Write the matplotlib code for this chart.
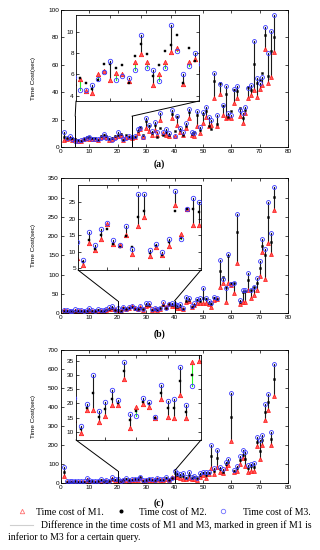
import numpy as np
import matplotlib.pyplot as plt
from matplotlib.patches import ConnectionPatch

# ---- data: time cost (sec) of methods M1, M2, M3 for queries 1..75
queries = np.arange(1, 76)

# panel (a)
a_m1 = [5.0, 5.6, 6.3, 5.2,
        5.6, 4.4, 4.3, 6.0, 6.3, 5.5, 6.15, 6.0, 5.35, 7.2, 7.9, 7.2, 5.05, 6.05, 7.15, 8.1, 8.5, 5.1, 7.15, 7.5,
        6.5, 7.0, 10, 13, 7,
        14, 12, 8.7, 12.5, 8.7, 20, 10, 8.7, 8, 21, 8, 16, 11, 9, 14, 21, 8.5, 8, 15.3, 10, 17.3, 22, 15.3, 16,
        35.5, 15.3, 38.4, 23.4, 21, 22, 21, 32, 35.5, 22.6, 17.8, 25, 36, 38, 41.6, 36.7, 42, 45.3, 71.3, 46.5,
        51, 69.6]
a_m2 = [7.5, 6.8, 6.8, 6.3,
        5.7, 5.15, 4.65, 5.5, 7.0, 6.95, 6.6, 6.9, 5.2, 7.7, 8.9, 7.9, 5.85, 6.9, 8.25, 8.75, 9.7, 5.15, 8.5, 7.25,
        7.5, 7.5, 12, 14.8, 8.7,
        19, 15, 10, 16, 7.5, 14, 8.8, 11, 9, 24, 11.7, 22, 12.4, 8.5, 15.5, 25.8, 9.5, 11, 23.4, 12.5, 23.8, 26.3,
        15.3, 12.9, 48.4, 17, 47, 30, 38.4, 22, 26.3, 41.6, 41, 28.2, 21, 27, 43.5, 41.6, 60.6, 47, 48.9, 53.8,
        81.8, 51.8, 70, 80.5]
a_m3 = [10.7, 6.5, 8.2, 5.8,
        4.55, 4.5, 5.05, 5.55, 6.25, 7.25, 5.5, 5.85, 5.7, 6.45, 9.75, 6.65, 6.45, 5.4, 6.6, 10.65, 8.2, 6.05,
        6.75, 8.0,
        7.0, 8.0, 13.5, 14, 7.5,
        21, 16, 11.7, 18, 11, 25, 11, 13, 10, 27, 8.2, 22.6, 14, 11, 17.8, 28, 11, 10.5, 26, 14.8, 25.8, 29, 22,
        20, 54, 23.4, 46, 30.5, 44.5, 24.6, 23.4, 42, 44.5, 27, 25, 29.4, 42.8, 45.3, 77.6, 50.6, 46.5, 51.3,
        87.8, 68.4, 85, 96]

# panel (b)
b_m1 = [8, 5, 5, 4, 6, 5, 6, 5, 6, 8, 6, 5, 7, 6, 6, 8, 11, 12, 10, 8,
        5.9, 12.7, 10.6, 13.9, 18.3, 12.5, 12.2, 15.1, 9.4, 17.7, 20.5, 8.8, 11.4, 8.9, 11.9, 24.1, 15.5, 22.9, 18.0,
        18, 13, 15, 10, 30, 31, 15.5, 21, 27.7, 27.7, 26, 26, 24, 15.5, 34.6, 36, 67.4, 79.5, 30.2, 79.5, 72.6,
        51.9, 131, 23, 30, 30.2, 60.5, 39, 47.5, 60.5, 96.8, 160, 89, 183, 155, 268]
b_m2 = [7, 6, 6, 5, 7, 6, 7, 6, 7, 9, 7, 6, 8, 7, 7, 9, 12, 13, 9, 9,
        6.8, 13.5, 11.0, 15.0, 16.9, 12.3, 11.4, 14.7, 11.4, 20.6, 22.4, 9.6, 11.7, 9.1, 12.9, 22.4, 14.2, 22.9, 22.8,
        22, 17, 19, 12, 33, 35, 17, 21.6, 34.6, 33, 39, 36, 27.7, 23, 40.6, 38, 110.6, 93, 67.4, 149.5, 78,
        79.5, 212, 30, 55, 58.8, 86, 60.5, 69, 79.5, 116.7, 175, 150, 250, 186, 302]
b_m3 = [7.5, 8, 7, 6, 10, 8, 8, 7, 9, 13, 9, 7, 11, 9, 9, 12, 16, 18, 9.5, 13,
        7.6, 15.9, 12.2, 17.0, 18.6, 13.5, 12.0, 17.9, 10.9, 27.5, 27.5, 10.4, 12.5, 10.0, 14.0, 28.4, 14.0, 23.0,
        26.3,
        25, 21.6, 23, 15, 43, 40, 19, 26, 36, 39, 64.8, 40.6, 32, 27.7, 43, 39, 138, 88, 64.8, 153.8, 75,
        79.5, 258, 34.6, 60, 60.5, 103.7, 60.5, 67.4, 90.8, 135.7, 192, 166, 289, 208, 328]

# panel (c)
c_m1 = [38.5, 5, 6, 7, 8, 6, 5, 7, 15, 10, 8, 7, 9, 12, 8, 10, 9, 20, 12, 14,
        9.6, 17.5, 17.5, 13.4, 15.5, 19.3, 19.3, 28.4, 11.3, 18.7, 19.6, 18.7, 14.9, 21.6, 15.2, 15.0, 23.1, 14.8,
        34.5,
        35, 31.5, 28, 25, 22, 30, 22, 25, 18, 35, 43.8, 29.8, 49, 79, 49, 86, 61, 52, 82, 96, 222, 61, 65, 100,
        135, 90, 61, 66.5, 66.5, 196, 125, 201, 332, 386, 200, 461]
c_m2 = [61, 7, 8, 9, 10, 8, 7, 9, 19, 12, 10, 9, 11, 16, 10, 12, 11, 24, 15, 17,
        10.8, 18.3, 23.7, 15.2, 17.9, 21.6, 20.2, 31.4, 14.0, 17.2, 20.4, 19.6, 14.9, 23.7, 18.3, 18.3, 27.7, 16.9,
        30.1,
        52, 43.8, 38, 38, 28, 42, 28, 32, 26, 43.8, 52, 45, 56, 145, 66.5, 131, 75, 61, 101.5, 113.8, 348, 66.5,
        80, 120, 150, 125, 79, 91, 87.5, 218.8, 170, 227.5, 374, 425, 233, 547]
c_m3 = [84, 10, 12, 12, 14, 11, 10, 13, 28, 16, 13, 12, 14, 24, 13, 16, 14, 33, 20, 22,
        12, 19.6, 30.1, 17.2, 20.4, 24.6, 21.0, 34.5, 16.3, 15.4, 21.9, 20.4, 15.3, 26.5, 20.7, 21.6, 32.7, 19.5,
        26.1,
        65, 52, 49, 52, 31.5, 59.5, 35, 38.5, 29.8, 52, 61, 61, 61, 200, 82, 173, 84, 75, 113.8, 126, 472, 72,
        89, 145, 175, 165, 96, 101.5, 108, 245, 230, 253.8, 419, 471, 271, 629]

panel_labels = ['(a)', '(b)', '(c)']
main_ylims = [(0, 100), (0, 350), (0, 700)]
main_yticks = [np.arange(0, 101, 20), np.arange(0, 351, 50), np.arange(0, 701, 100)]
zoom_x = [(5, 25), (20, 40), (20, 40)]
zoom_top = [22.5, 32, 65]
inset_xlims = [(4.35, 24.6), (20.2, 40.3), (20.25, 40.4)]
inset_ylims = [(3.5, 11.6), (4.5, 30.2), (7.1, 37)]
inset_yticks = [[4, 6, 8, 10], [5, 10, 15, 20, 25], [10, 15, 20, 25, 30, 35]]
inset_xticks = [[10, 15, 20], [25, 30, 35], [25, 30, 35]]

W, H = 320, 550


def rect(x0, y0, x1, y1):
    # pixel box -> figure fraction
    return [x0 / W, 1 - y1 / H, (x1 - x0) / W, (y1 - y0) / H]


main_boxes = [(61, 10, 288, 147), (61, 178.3, 288, 313.3), (61, 350, 288, 483.3)]
inset_boxes = [(76, 15, 199, 101), (78, 185, 201, 270), (76, 355, 201, 440)]
label_y = [164, 334, 503]

plt.rcParams['font.family'] = ['Liberation Sans', 'DejaVu Sans']
fig = plt.figure(figsize=(3.2, 5.5), dpi=100)

RED = '#ff1010'
BLUE = '#3a3aff'
GREEN = '#22ee22'
LINE = '#1a1a1a'


def draw(ax, m1, m2, m3, ms):
    m1 = np.array(m1); m2 = np.array(m2); m3 = np.array(m3)
    for q, a, c in zip(queries, m1, m3):
        col = GREEN if a > c else LINE
        ax.plot([q, q], [a, c], color=col, lw=0.8, zorder=1)
    ax.plot(queries, m1, ls='none', marker='^', ms=ms, mec=RED, mfc='#ff5a5a', mew=0.5, zorder=2)
    ax.plot(queries, m2, ls='none', marker='s', ms=ms * 0.5, mec='black', mfc='black', mew=0.3, zorder=3)
    ax.plot(queries, m3, ls='none', marker='o', ms=ms, mec=BLUE, mfc='none', mew=0.6, zorder=4)


def style(ax):
    for s in ax.spines.values():
        s.set_linewidth(0.6)
    ax.tick_params(direction='in', top=True, right=True, length=2, width=0.5,
                   labelsize=4.6, pad=1.5)


series = [(a_m1, a_m2, a_m3), (b_m1, b_m2, b_m3), (c_m1, c_m2, c_m3)]

for i in range(3):
    m1, m2, m3 = series[i]
    ax = fig.add_axes(rect(*main_boxes[i]))
    draw(ax, m1, m2, m3, 2.8)
    ax.set_xlim(0, 80)
    ax.set_ylim(*main_ylims[i])
    ax.set_xticks(np.arange(0, 81, 10))
    ax.set_yticks(main_yticks[i])
    style(ax)

    mx0, my0, mx1, my1 = main_boxes[i]
    fig.text(33 / W, 1 - (my0 + my1) / 2 / H, 'Time Cost(sec)', rotation=90,
             ha='center', va='center', fontsize=4.6)
    fig.text(159 / W, 1 - label_y[i] / H, panel_labels[i], ha='center', va='center',
             fontsize=7, fontweight='bold', family='Liberation Serif')

    ins = fig.add_axes(rect(*inset_boxes[i]))
    draw(ins, m1, m2, m3, 3.2)
    ins.set_xlim(*inset_xlims[i])
    ins.set_ylim(*inset_ylims[i])
    ins.set_yticks(inset_yticks[i])
    ins.set_xticks(inset_xticks[i])
    ins.set_xticklabels([])
    style(ins)

    # zoomed region and connectors
    x0, x1 = zoom_x[i]
    top = zoom_top[i]
    for xx in (x0, x1):
        ax.plot([xx, xx], [0, top], color='black', lw=0.7, zorder=5)
    for corner, xx in (((0, 0), x0), ((1, 0), x1)):
        con = ConnectionPatch(xyA=corner, coordsA=ins.transAxes, xyB=(xx, top),
                              coordsB=ax.transData, color='black', lw=0.7)
        fig.add_artist(con)

# legend text at the bottom
serif = 'Liberation Serif'
row1 = 1 - 512.5 / H
fig.lines.append(plt.Line2D([21.7 / W], [row1 + 0.002], marker='^', ms=3.2, mec='#ff7070', mfc='none',
                            mew=0.6, transform=fig.transFigure, figure=fig))
fig.lines.append(plt.Line2D([120.7 / W], [row1 + 0.002], marker='o', ms=1.9, mec='black', mfc='black',
                            transform=fig.transFigure, figure=fig))
fig.lines.append(plt.Line2D([222.7 / W], [row1 + 0.002], marker='o', ms=3.2, mec='#7070ff', mfc='none',
                            mew=0.6, transform=fig.transFigure, figure=fig))
fig.text(36 / W, row1, 'Time cost of M1.', fontsize=7, family=serif, va='center')
fig.text(139.3 / W, row1, 'Time cost of M2.', fontsize=7, family=serif, va='center')
fig.text(242.7 / W, row1, 'Time cost of M3.', fontsize=7, family=serif, va='center')

row2 = 1 - 525 / H
fig.lines.append(plt.Line2D([10 / W, 33 / W], [row2, row2], color='#cfcfcf', lw=0.8,
                            transform=fig.transFigure, figure=fig))
fig.text(40.7 / W, row2, 'Difference in the time costs of M1 and M3, marked in green if M1 is',
         fontsize=7, family=serif, va='center')
row3 = 1 - 537.5 / H
fig.text(8.3 / W, row3, 'inferior to M3 for a certain query.', fontsize=7, family=serif, va='center')

fig.savefig('out.png', dpi=100)
